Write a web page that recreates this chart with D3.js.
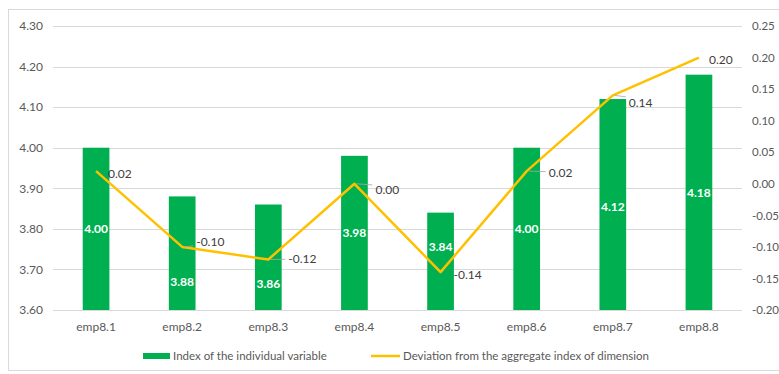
<!DOCTYPE html>
<html>
<head>
<meta charset="utf-8">
<script src="https://cdn.jsdelivr.net/npm/d3@7"></script>
<style>
  html, body { margin: 0; padding: 0; background: #ffffff; }
  svg { display: block; }
  text { font-family: Lato, "Open Sans", sans-serif; }
</style>
</head>
<body>
<svg id="chart" width="779" height="374"></svg>
<script>
// Category names along the x axis
const categories = ["emp8.1", "emp8.2", "emp8.3", "emp8.4", "emp8.5", "emp8.6", "emp8.7", "emp8.8"];
// Index of the individual variable (bars, left axis)
const indexValues = [4.00, 3.88, 3.86, 3.98, 3.84, 4.00, 4.12, 4.18];
// Deviation from the aggregate index of dimension (line, right axis)
const deviationValues = [0.02, -0.10, -0.12, 0.00, -0.14, 0.02, 0.14, 0.20];
// Axis tick values
const leftTicks = [3.60, 3.70, 3.80, 3.90, 4.00, 4.10, 4.20, 4.30];
const rightTicks = [-0.20, -0.15, -0.10, -0.05, 0.00, 0.05, 0.10, 0.15, 0.20, 0.25];
const seriesNames = ["Index of the individual variable", "Deviation from the aggregate index of dimension"];

const svg = d3.select("#chart");
const plot = { left: 53, right: 742, top: 26, bottom: 310 };
const green = "#00B050", gold = "#FFC000", grid = "#D9D9D9", axisText = "#595959";
// two decimals with a plain hyphen for negatives
const fmt = d => d3.format(".2f")(d).replace("\u2212", "-");

// chart frame
svg.append("rect")
  .attr("x", 8.5).attr("y", 9.5).attr("width", 800).attr("height", 361)
  .attr("fill", "#ffffff").attr("stroke", "#D9D9D9").attr("stroke-width", 1);

const x = d3.scaleBand().domain(categories).range([plot.left, plot.right]);
const yL = d3.scaleLinear().domain([3.6, 4.3]).range([plot.bottom, plot.top]);
const yR = d3.scaleLinear().domain([-0.2, 0.25]).range([plot.bottom, plot.top]);

// horizontal gridlines
svg.append("g").selectAll("line").data(leftTicks).join("line")
  .attr("x1", plot.left).attr("x2", plot.right)
  .attr("y1", d => Math.round(yL(d)) + 0.5).attr("y2", d => Math.round(yL(d)) + 0.5)
  .attr("stroke", grid).attr("stroke-width", 1);

// left axis
const leftAxis = svg.append("g").attr("transform", `translate(${plot.left - 10},0)`)
  .call(d3.axisLeft(yL).tickValues(leftTicks).tickFormat(fmt).tickSize(0).tickPadding(0));
leftAxis.select(".domain").remove();
leftAxis.selectAll("text").attr("fill", axisText).attr("font-size", 12)
  .style("font-family", "Lato, 'Open Sans', sans-serif");

// right axis (labels left-aligned)
const rightAxis = svg.append("g").attr("transform", `translate(${plot.right + 10},0)`)
  .call(d3.axisRight(yR).tickValues(rightTicks).tickFormat(fmt).tickSize(0).tickPadding(0));
rightAxis.select(".domain").remove();
rightAxis.selectAll("text").attr("fill", axisText).attr("font-size", 11.5)
  .style("font-family", "Lato, 'Open Sans', sans-serif");

// bottom axis
const bottomAxis = svg.append("g").attr("transform", `translate(0,${plot.bottom})`)
  .call(d3.axisBottom(x).tickSize(0).tickPadding(12));
bottomAxis.select(".domain").remove();
bottomAxis.selectAll("text").attr("fill", axisText).attr("font-size", 12)
  .style("font-family", "Lato, 'Open Sans', sans-serif");

// bars
const barW = x.bandwidth() * 0.31;
svg.append("g").selectAll("rect").data(indexValues).join("rect")
  .attr("x", (d, i) => x(categories[i]) + x.bandwidth() / 2 - barW / 2)
  .attr("y", d => yL(d))
  .attr("width", barW)
  .attr("height", d => yL(3.6) - yL(d))
  .attr("fill", green);

// bar value labels, placed inside each bar (in left-axis units)
const barLabelAt = [3.80, 3.67, 3.665, 3.79, 3.755, 3.80, 3.855, 3.89];
svg.append("g").selectAll("text").data(indexValues).join("text")
  .attr("x", (d, i) => x(categories[i]) + x.bandwidth() / 2)
  .attr("y", (d, i) => yL(barLabelAt[i]))
  .attr("dy", "0.35em")
  .attr("text-anchor", "middle")
  .attr("fill", "#ffffff").attr("font-size", 12).attr("font-weight", "bold")
  .text(d => fmt(d));

// deviation line
const cx = i => x(categories[i]) + x.bandwidth() / 2;
const line = d3.line().x((d, i) => cx(i)).y(d => yR(d));
svg.append("path").datum(deviationValues)
  .attr("d", line).attr("fill", "none")
  .attr("stroke", gold).attr("stroke-width", 2.5).attr("stroke-linejoin", "round");

// deviation labels with short leader lines
const devLabelOffset = [[12, 3], [14, -5], [20, -1], [21, 6], [13, 3], [22, 2], [16, 7], [10, 2]];
const devLabels = svg.append("g");
deviationValues.forEach((d, i) => {
  const px = cx(i), py = yR(d);
  const [dx, dy] = devLabelOffset[i];
  if (dx >= 14) {
    devLabels.append("path")
      .attr("d", `M${px + 2},${py} L${px + dx - 3},${py + dy * 0.2}`)
      .attr("stroke", "#A6A6A6").attr("stroke-width", 0.8).attr("fill", "none");
  }
  devLabels.append("text")
    .attr("x", px + dx).attr("y", py + dy).attr("dy", "0.35em")
    .attr("fill", "#404040").attr("font-size", 12)
    .text(fmt(d));
});

// legend
const legend = svg.append("g");
legend.append("rect").attr("x", 143).attr("y", 353).attr("width", 27).attr("height", 6).attr("fill", green);
legend.append("text").attr("x", 173).attr("y", 356).attr("dy", "0.35em")
  .attr("fill", axisText).attr("font-size", 11.5).text(seriesNames[0]);
legend.append("line").attr("x1", 371).attr("x2", 400).attr("y1", 356).attr("y2", 356)
  .attr("stroke", gold).attr("stroke-width", 2.5);
legend.append("text").attr("x", 403).attr("y", 356).attr("dy", "0.35em")
  .attr("fill", axisText).attr("font-size", 11.5).text(seriesNames[1]);
</script>
</body>
</html>
